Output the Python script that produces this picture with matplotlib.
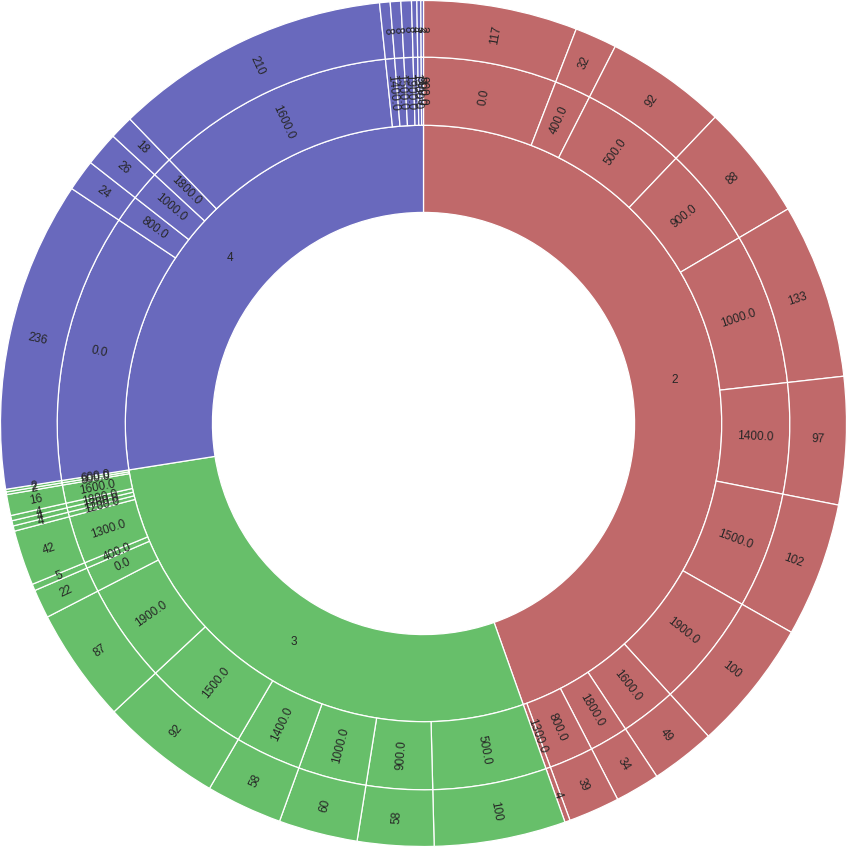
import matplotlib
matplotlib.use('Agg')
import matplotlib.pyplot as plt
import numpy as np

# ---- data ----
categories = ['2', '3', '4']

bins_2 = ['0.0', '400.0', '500.0', '900.0', '1000.0', '1400.0', '1500.0',
          '1900.0', '1600.0', '1800.0', '800.0', '1300.0']
counts_2 = [117, 32, 92, 88, 133, 97, 102, 100, 49, 34, 39, 4]

bins_3 = ['500.0', '900.0', '1000.0', '1400.0', '1500.0', '1900.0', '0.0',
          '400.0', '1300.0', '1200.0', '1700.0', '1800.0', '1600.0', '800.0',
          '600.0']
counts_3 = [100, 58, 60, 58, 92, 87, 22, 5, 42, 4, 4, 4, 16, 2, 2]

bins_4 = ['0.0', '800.0', '1000.0', '1800.0', '1600.0', '1400.0', '1500.0',
          '1900.0', '1300.0', '500.0', '900.0']
counts_4 = [236, 24, 26, 18, 210, 8, 8, 8, 4, 3, 2]

cat_colors = ['#C0696A', '#67BF6A', '#6969BD']

# ---- figure ----
fig = plt.figure(figsize=(8.47, 8.47), dpi=100)
ax = fig.add_axes([0, 0, 1, 1])

R_hole, R1, R2, R3 = 0.499, 0.705, 0.866, 1.0
text_color = '#262626'
fs = 8.5
font = 'Liberation Sans'

all_bins = [bins_2, bins_3, bins_4]
all_counts = [counts_2, counts_3, counts_4]
cat_totals = [sum(c) for c in all_counts]

wp = lambda w: dict(width=w, edgecolor='white', linewidth=0.9)

# inner ring: categories
inner, _ = ax.pie(cat_totals, radius=R1, startangle=90, counterclock=False,
                  colors=cat_colors, wedgeprops=wp(R1 - R_hole))

flat_bins = [b for bl in all_bins for b in bl]
flat_counts = [c for cl in all_counts for c in cl]
flat_colors = [cat_colors[i] for i, cl in enumerate(all_counts) for _ in cl]

middle, _ = ax.pie(flat_counts, radius=R2, startangle=90, counterclock=False,
                   colors=flat_colors, wedgeprops=wp(R2 - R1))
outer, _ = ax.pie(flat_counts, radius=R3, startangle=90, counterclock=False,
                  colors=flat_colors, wedgeprops=wp(R3 - R2))


def radial_rot(theta):
    rot = theta % 360
    if rot > 180:
        rot -= 360
    if rot > 90:
        rot -= 180
    elif rot < -90:
        rot += 180
    return rot


for w, lab in zip(inner, categories):
    th = np.deg2rad((w.theta1 + w.theta2) / 2)
    r = (R_hole + R1) / 2
    ax.text(r * np.cos(th), r * np.sin(th), lab, ha='center', va='center',
            fontsize=fs, color=text_color, family=font)

for wedges, labels, r0, r1 in [(middle, flat_bins, R1, R2),
                               (outer, [str(c) for c in flat_counts], R2, R3)]:
    for w, lab in zip(wedges, labels):
        thd = (w.theta1 + w.theta2) / 2
        th = np.deg2rad(thd)
        r = (r0 + r1) / 2
        ax.text(r * np.cos(th), r * np.sin(th), lab, ha='center', va='center',
                rotation=radial_rot(thd), rotation_mode='anchor',
                fontsize=fs, color=text_color, family=font)

lim = (847 / 2) / 423.0
ax.set_xlim(-lim, lim)
ax.set_ylim(-lim, lim)
ax.set_aspect('equal')
ax.axis('off')

fig.savefig('out.png', dpi=100, facecolor='white')
